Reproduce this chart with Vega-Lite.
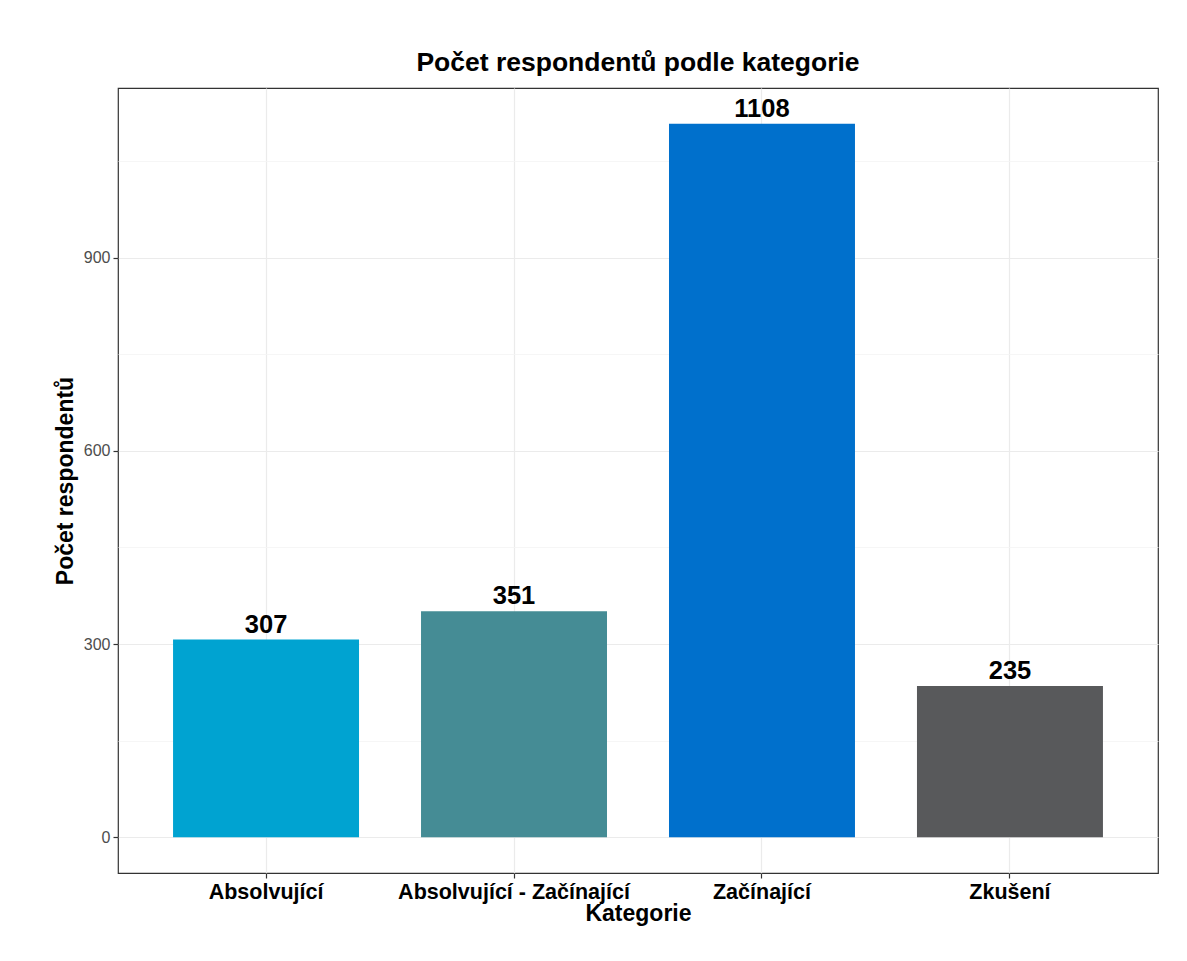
{
  "$schema": "https://vega.github.io/schema/vega-lite/v6.json",
  "width": 1040,
  "height": 785,
  "autosize": {"type": "none"},
  "padding": {"left": 118, "top": 88, "right": 29, "bottom": 88},
  "background": "white",
  "title": {
    "text": "Počet respondentů podle kategorie",
    "font": "Liberation Sans",
    "fontSize": 26.5,
    "fontWeight": "bold",
    "color": "#000000",
    "anchor": "middle",
    "offset": 12
  },
  "config": {
    "view": {"stroke": "#333333", "strokeWidth": 1.2},
    "font": "Liberation Sans"
  },
  "data": {
    "values": [
      {"kategorie": "Absolvující", "pocet": 307},
      {"kategorie": "Absolvující - Začínající", "pocet": 351},
      {"kategorie": "Začínající", "pocet": 1108},
      {"kategorie": "Zkušení", "pocet": 235}
    ]
  },
  "encoding": {
    "x": {
      "field": "kategorie",
      "type": "nominal",
      "sort": null,
      "scale": {"paddingInner": 0.25, "paddingOuter": 0.222},
      "title": "Kategorie",
      "axis": {
        "labelAngle": 0,
        "labelLimit": 0,
        "labelFont": "Liberation Sans",
        "labelFontSize": 21.5,
        "labelFontWeight": "bold",
        "labelColor": "#000000",
        "labelPadding": 3,
        "tickColor": "#333333",
        "tickSize": 5,
        "tickWidth": 1.2,
        "domain": false,
        "grid": true,
        "gridColor": "#ebebeb",
        "gridWidth": 1.2,
        "bandPosition": 0.5,
        "titleFont": "Liberation Sans",
        "titleFontSize": 23,
        "titleFontWeight": "bold",
        "titleColor": "#000000",
        "titlePadding": 0
      }
    },
    "y": {
      "field": "pocet",
      "type": "quantitative",
      "scale": {"domain": [-55.4, 1163.4], "nice": false, "zero": false},
      "title": "Počet respondentů",
      "axis": {
        "values": [0, 150, 300, 450, 600, 750, 900, 1050],
        "labelExpr": "datum.value % 300 === 0 ? datum.label : ''",
        "labelFont": "Liberation Sans",
        "labelFontSize": 16,
        "labelColor": "#4d4d4d",
        "labelPadding": 3,
        "tickColor": "#333333",
        "tickSize": 5,
        "tickWidth": 1.2,
        "tickOpacity": {"condition": {"test": "datum.value % 300 === 0", "value": 1}, "value": 0},
        "domain": false,
        "grid": true,
        "gridColor": {"condition": {"test": "datum.value % 300 === 0", "value": "#ebebeb"}, "value": "#f4f4f4"},
        "gridWidth": {"condition": {"test": "datum.value % 300 === 0", "value": 1.2}, "value": 0.8},
        "titleFont": "Liberation Sans",
        "titleFontSize": 23,
        "titleFontWeight": "bold",
        "titleColor": "#000000",
        "titlePadding": 6
      }
    }
  },
  "layer": [
    {
      "mark": {"type": "bar"},
      "encoding": {
        "color": {
          "field": "kategorie",
          "type": "nominal",
          "sort": null,
          "scale": {
            "domain": ["Absolvující", "Absolvující - Začínající", "Začínající", "Zkušení"],
            "range": ["#00a3d1", "#458c95", "#0070cc", "#58595b"]
          },
          "legend": null
        },
        "y2": {"datum": 0}
      }
    },
    {
      "mark": {
        "type": "text",
        "baseline": "alphabetic",
        "dy": -7,
        "font": "Liberation Sans",
        "fontSize": 25.5,
        "fontWeight": "bold",
        "color": "#000000"
      },
      "encoding": {
        "text": {"field": "pocet", "type": "quantitative"}
      }
    }
  ]
}
